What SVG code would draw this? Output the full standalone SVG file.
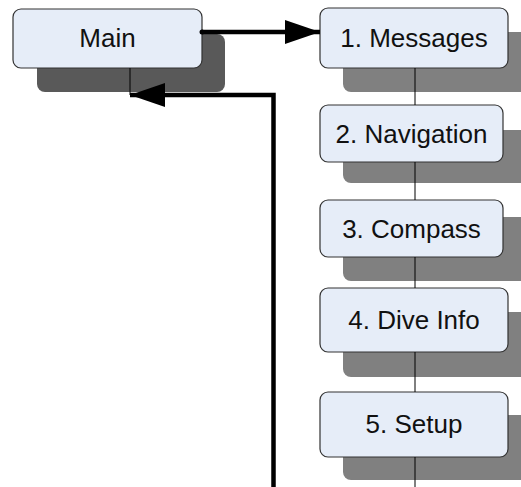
<svg xmlns="http://www.w3.org/2000/svg" width="521" height="487" viewBox="0 0 521 487">
<defs>
<style>
.box{fill:#e6edf8;stroke:#333;stroke-width:1.2}
.sh{fill:#808080}
.shm{fill:#595959}
.t{font-family:"Liberation Sans",Arial,sans-serif;font-size:26px;fill:#111;text-anchor:middle}
.thin{stroke:#000;stroke-width:1;fill:none}
.thick{stroke:#000;stroke-width:4.5;fill:none}
</style>
<marker id="ah" markerUnits="userSpaceOnUse" markerWidth="36" markerHeight="26" refX="35" refY="12" orient="auto">
<path d="M0,0 L35,12 L0,24 Z" fill="#000"/>
</marker>
</defs>
<rect width="521" height="487" fill="#fff"/>
<g id="main">
<rect class="shm" x="37" y="34" width="188" height="58" rx="8"/>
<rect class="box" x="13" y="9" width="189" height="59" rx="8"/>
<text class="t" x="107.5" y="47">Main</text>
</g>
<g id="n1">
<rect class="sh" x="343" y="32" width="200" height="60" rx="8"/>
<rect class="box" x="320" y="8" width="188" height="60" rx="8"/>
<text class="t" x="414" y="47">1. Messages</text>
</g>
<g id="n2">
<rect class="sh" x="343" y="130" width="200" height="53" rx="8"/>
<rect class="box" x="320" y="105" width="183" height="57" rx="8"/>
<text class="t" x="411.5" y="142.5">2. Navigation</text>
</g>
<g id="n3">
<rect class="sh" x="343" y="217" width="200" height="64" rx="8"/>
<rect class="box" x="320" y="200" width="183" height="57" rx="8"/>
<text class="t" x="411.5" y="237.5">3. Compass</text>
</g>
<g id="n4">
<rect class="sh" x="343" y="312" width="200" height="65" rx="8"/>
<rect class="box" x="320" y="288" width="188" height="64" rx="8"/>
<text class="t" x="414" y="329">4. Dive Info</text>
</g>
<g id="n5">
<rect class="sh" x="343" y="415" width="200" height="65" rx="8"/>
<rect class="box" x="320" y="392" width="188" height="65" rx="8"/>
<text class="t" x="414" y="433">5. Setup</text>
</g>
<g id="connectors">
<line class="thin" x1="130" y1="68" x2="130" y2="95"/>
<line class="thin" x1="415" y1="68" x2="415" y2="105"/>
<line class="thin" x1="415" y1="162" x2="415" y2="200"/>
<line class="thin" x1="415" y1="257" x2="415" y2="288"/>
<line class="thin" x1="415" y1="352" x2="415" y2="392"/>
<line class="thin" x1="415" y1="457" x2="415" y2="487"/>
<circle cx="202" cy="32" r="2.5" fill="#000"/>
<path class="thick" d="M202,32 L320,32" marker-end="url(#ah)"/>
<path class="thick" d="M273.5,490 L273.5,95 L130,95" marker-end="url(#ah)"/>
</g>
</svg>
